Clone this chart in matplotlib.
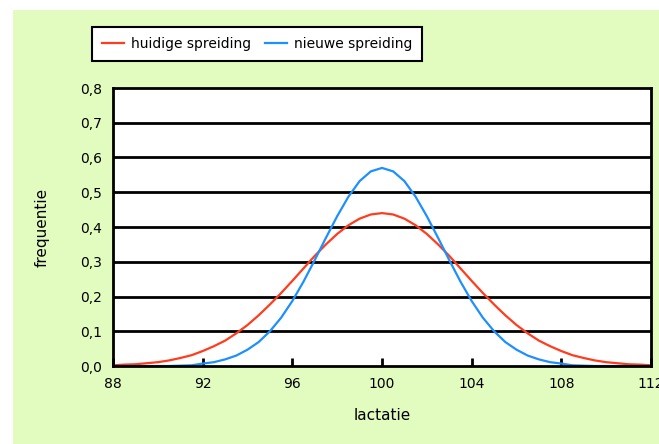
import matplotlib
matplotlib.use('Agg')
import matplotlib.pyplot as plt
from matplotlib.patches import Rectangle

# waarden (lactatie 88 - 112, stap 0,5)
lactatie = [88, 88.5, 89, 89.5, 90, 90.5, 91, 91.5, 92, 92.5, 93, 93.5, 94, 94.5,
            95, 95.5, 96, 96.5, 97, 97.5, 98, 98.5, 99, 99.5, 100,
            100.5, 101, 101.5, 102, 102.5, 103, 103.5, 104, 104.5, 105, 105.5,
            106, 106.5, 107, 107.5, 108, 108.5, 109, 109.5, 110, 110.5, 111, 111.5, 112]
huidig = [0.002, 0.004, 0.005, 0.008, 0.011, 0.016, 0.023, 0.031, 0.043, 0.057, 0.073,
          0.094, 0.118, 0.146, 0.177, 0.210, 0.245, 0.281, 0.317, 0.350, 0.380, 0.405,
          0.424, 0.436, 0.440,
          0.436, 0.424, 0.405, 0.380, 0.350, 0.317, 0.281, 0.245, 0.210, 0.177, 0.146,
          0.118, 0.094, 0.073, 0.057, 0.043, 0.031, 0.023, 0.016, 0.011, 0.008, 0.005,
          0.004, 0.002]
nieuw = [0, 0, 0, 0, 0, 0, 0.001, 0.002, 0.007, 0.011, 0.019, 0.030, 0.047, 0.069,
         0.100, 0.139, 0.187, 0.243, 0.305, 0.369, 0.431, 0.487, 0.532, 0.560, 0.570,
         0.560, 0.532, 0.487, 0.431, 0.369, 0.305, 0.243, 0.187, 0.139, 0.100, 0.069,
         0.047, 0.030, 0.019, 0.011, 0.007, 0.002, 0.001, 0, 0, 0, 0, 0, 0]
xticks = [88, 92, 96, 100, 104, 108, 112]
yticks = [0.0, 0.1, 0.2, 0.3, 0.4, 0.5, 0.6, 0.7, 0.8]
ylabels = ['0,0', '0,1', '0,2', '0,3', '0,4', '0,5', '0,6', '0,7', '0,8']

fig = plt.figure(figsize=(6.59, 4.44), dpi=100, facecolor='white')
# lichtgele achtergrond
fig.patches.append(Rectangle((13 / 659, 0), 1, 1 - 10 / 444, transform=fig.transFigure,
                             facecolor='#e2fcc0', edgecolor='none', zorder=-10))

ax = fig.add_axes([113 / 659, 1 - 366 / 444, (651 - 113) / 659, (366 - 88) / 444])
ax.set_facecolor('white')

ax.plot(lactatie, huidig, color='#ff3c1e', lw=1.6, label='huidige spreiding', zorder=3)
ax.plot(lactatie, nieuw, color='#1e8fff', lw=1.6, label='nieuwe spreiding', zorder=3)

ax.set_xlim(88, 112)
ax.set_ylim(0, 0.8)
ax.set_xticks(xticks)
ax.set_yticks(yticks)
ax.set_yticklabels(ylabels)
for y in yticks[1:-1]:
    ax.axhline(y, color='black', lw=2, zorder=1)

for s in ax.spines.values():
    s.set_linewidth(2)
    s.set_color('black')
    s.set_zorder(4)
ax.tick_params(axis='x', direction='in', length=6, width=2, labelsize=10, pad=8)
ax.tick_params(axis='y', length=0, labelsize=10, pad=8)

ax.set_xlabel('lactatie', fontsize=11, labelpad=12)
ax.set_ylabel('frequentie', fontsize=11, labelpad=22)

leg = fig.legend(loc='center', bbox_to_anchor=(257 / 659, 1 - 44 / 444), ncol=2,
                 fancybox=False, edgecolor='black', framealpha=1, fontsize=10,
                 handlelength=1.6, columnspacing=1.0, handletextpad=0.5,
                 borderpad=0.7)
leg.get_frame().set_linewidth(1.5)

fig.savefig('out.png', dpi=100)
